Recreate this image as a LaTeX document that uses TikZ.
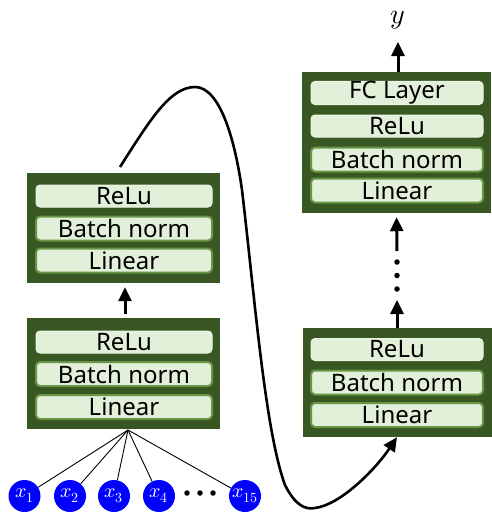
\documentclass[tikz,border=0pt]{standalone}
\usepackage{fontspec}
\usepackage{unicode-math}
\setmainfont{Noto Sans}
\setmathfont{Latin Modern Math}
\usetikzlibrary{arrows.meta}
\definecolor{dkgreen}{RGB}{56,87,35}
\definecolor{ltgreen}{RGB}{226,240,217}
\definecolor{mdgreen}{RGB}{104,150,70}
\definecolor{pale}{RGB}{236,245,230}
\definecolor{inblue}{RGB}{0,0,255}
\tikzset{
  x=1pt,y=1pt,
  block/.style={fill=dkgreen, draw=none, inner sep=0pt, minimum width=193pt},
  rowbase/.style={fill=ltgreen, rounded corners=4pt, inner sep=0pt, minimum width=176pt,
     font=\fontsize{24}{24}\selectfont, text=black},
  rowa/.style={rowbase, draw=pale, line width=1pt, minimum height=22pt},
  rowb/.style={rowbase, draw=mdgreen, line width=2pt, minimum height=24pt},
  bigarrow/.style={line width=3pt, -{Triangle[width=13pt,length=14pt]}},
  fan/.style={line width=0.9pt},
  inp/.style={circle, fill=inblue, minimum size=32pt, inner sep=0pt, text=white,
     font=\fontsize{20}{20}\selectfont},
  dotn/.style={circle, fill=black, minimum size=5.5pt, inner sep=0pt}
}
\begin{document}
\begin{tikzpicture}
\useasboundingbox (0,0) rectangle (491,-512);
% left top block
\node[block, minimum height=110pt] (lt) at (123,-228) {};
\node[rowa] (ltr) at (124,-196) {ReLu};
\node[rowb] (ltb) at (124,-228.5) {Batch norm};
\node[rowb] (ltl) at (124,-260.5) {Linear};
% left bottom block
\node[block, minimum height=111pt] (lb) at (123,-373.5) {};
\node[rowa] (lbr) at (124,-342) {ReLu};
\node[rowb] (lbb) at (124,-374) {Batch norm};
\node[rowb] (lbl) at (124,-407) {Linear};
% right top block
\node[block, minimum width=189pt, minimum height=141pt] (rt) at (396.5,-142.5) {};
\node[rowa, minimum width=172pt, minimum height=21pt] (rtf) at (397,-93) {FC Layer};
\node[rowa, minimum width=172pt] (rtr) at (397,-126) {ReLu};
\node[rowb, minimum width=172pt] (rtb) at (397,-159.5) {Batch norm};
\node[rowb, minimum width=172pt] (rtl) at (397,-190.5) {Linear};
% right bottom block
\node[block, minimum width=189pt, minimum height=109pt] (rb) at (397,-382.5) {};
\node[rowa, minimum width=172pt] (rbr) at (397,-349.5) {ReLu};
\node[rowb, minimum width=172pt] (rbb) at (397,-382.5) {Batch norm};
\node[rowb, minimum width=172pt] (rbl) at (397,-415) {Linear};
% output
\node[font=\fontsize{28}{28}\selectfont] (y) at (398,-20) {$y$};
\coordinate (ytip) at (398,-42);
% inputs
\node[inp] (x1) at (24.5,-496) {$x_{1}$};
\node[inp] (x2) at (70,-496) {$x_{2}$};
\node[inp] (x3) at (114,-496) {$x_{3}$};
\node[inp] (x4) at (159,-496) {$x_{4}$};
\node[inp] (x15) at (245,-496) {$x_{15}$};
\node[dotn] (hd1) at (187,-493) {};
\node[dotn] (hd2) at (200,-493) {};
\node[dotn] (hd3) at (213,-493) {};
\coordinate (fanpt) at (128,-430);
\foreach \n in {x1,x2,x3,x4,x15} \draw[fan] (fanpt) -- (\n);
% vertical dots
\node[dotn] (vd1) at (397,-262) {};
\node[dotn] (vd2) at (397,-275.5) {};
\node[dotn] (vd3) at (397,-289) {};
\coordinate (vtip) at (397,-300);
\coordinate (vstart) at (397,-251);
% arrows
\draw[bigarrow, shorten <=4pt, shorten >=4pt] (lb.north -| 125,0) -- (lt.south -| 125,0);
\draw[bigarrow] (rb.north) -- (vtip);
\draw[bigarrow, shorten >=4pt] (vstart) -- (rt.south);
\draw[bigarrow] (rt.north -| ytip) -- (ytip);
% long curve
\coordinate (cs) at (120,-167);
\draw[line width=2.6pt, -{Triangle[width=13pt,length=14pt]}] (cs)
  .. controls (150,-120) and (170,-87) .. (195,-87)
  .. controls (220,-87) and (235,-140) .. (242,-190)
  .. controls (255,-300) and (265,-430) .. (285,-485)
  .. controls (295,-505) and (305,-510) .. (315,-508)
  .. controls (340,-505) and (375,-470) .. (rb.south);
\end{tikzpicture}
\end{document}
